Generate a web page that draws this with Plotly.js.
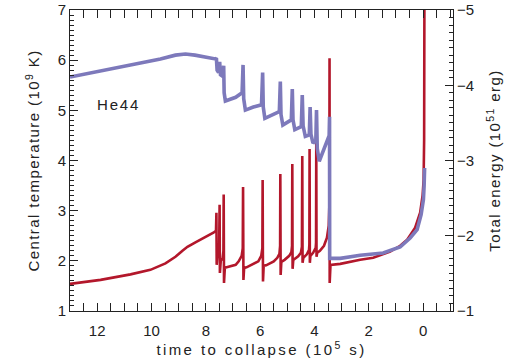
<!DOCTYPE html>
<html>
<head>
<meta charset="utf-8">
<script src="https://cdn.plot.ly/plotly-3.0.1.min.js"></script>
<style>
html,body{margin:0;padding:0;background:#fff;}
#chart{width:522px;height:361px;}
text.xtitle{letter-spacing:2.4px;}
text.ytitle, text.y2title{letter-spacing:1.4px;}
text.annotation-text{letter-spacing:1.8px;}
</style>
</head>
<body>
<div id="chart"></div>
<script>
// Central temperature (10^9 K) vs time to collapse (10^5 s)
const redX = [13.0,11.875,10.772,10.04,9.486,9.118,8.860,8.676,8.382,8.015,7.721,7.625,7.610,7.600,7.570,7.510,7.492,7.482,7.450,7.380,7.352,7.342,7.330,7.300,7.217,6.900,6.790,6.680,6.640,6.629,6.615,6.590,6.500,6.250,6.066,5.960,5.918,5.908,5.895,5.870,5.780,5.500,5.368,5.290,5.265,5.257,5.245,5.220,5.100,4.930,4.850,4.826,4.816,4.805,4.780,4.600,4.500,4.462,4.449,4.438,4.410,4.280,4.200,4.188,4.180,4.170,4.150,4.050,3.955,3.942,3.934,3.924,3.900,3.800,3.650,3.540,3.475,3.452,3.445,3.440,3.410,3.051,2.316,1.838,1.213,0.846,0.588,0.294,0.110,0.018,-0.018,-0.037,-0.048];
const redT = [1.54,1.62,1.73,1.82,1.95,2.08,2.20,2.28,2.37,2.47,2.56,2.60,2.96,1.92,2.15,2.25,3.12,1.76,2.00,2.05,2.20,3.32,1.56,1.86,1.87,1.92,1.99,2.10,2.25,3.47,1.62,1.86,1.87,1.93,1.99,2.10,2.25,3.61,1.59,1.90,1.91,1.99,2.06,2.14,2.30,3.73,1.72,1.98,2.02,2.10,2.17,2.30,3.93,1.84,2.02,2.09,2.16,2.28,4.09,1.96,2.06,2.13,2.22,2.33,4.23,1.96,2.10,2.16,2.26,2.36,4.35,2.08,2.16,2.20,2.30,2.46,2.70,3.10,6.04,1.56,1.92,1.94,2.02,2.06,2.185,2.30,2.42,2.66,2.96,3.31,3.61,4.41,7.3];
// Total energy (10^51 erg)
const blueX = [13.0,11.875,10.772,9.669,9.118,8.75,8.40,7.831,7.647,7.610,7.585,7.530,7.490,7.460,7.380,7.342,7.325,7.280,6.900,6.665,6.629,6.605,6.544,6.25,5.950,5.908,5.885,5.827,5.55,5.294,5.257,5.232,5.165,4.853,4.816,4.790,4.724,4.485,4.449,4.418,4.338,4.191,4.160,4.130,4.055,3.950,3.925,3.897,3.824,3.54,3.46,3.445,3.440,3.051,2.316,1.471,0.846,0.478,0.221,0.074,-0.011,-0.037,-0.055];
const blueE = [-4.11,-4.19,-4.27,-4.35,-4.40,-4.415,-4.40,-4.36,-4.35,-4.36,-4.20,-4.17,-4.31,-4.14,-4.12,-4.26,-3.90,-3.79,-3.84,-3.90,-4.27,-3.82,-3.67,-3.71,-3.74,-4.17,-3.71,-3.56,-3.61,-3.65,-4.05,-3.61,-3.47,-3.54,-3.95,-3.54,-3.41,-3.45,-3.87,-3.46,-3.32,-3.34,-3.71,-3.35,-3.23,-3.27,-3.67,-3.16,-2.99,-3.27,-3.33,-3.58,-1.70,-1.70,-1.74,-1.77,-1.85,-1.97,-2.08,-2.28,-2.48,-2.67,-2.90];
const xTicks = [12,10,8,6,4,2,0];
const yTicks = [1,2,3,4,5,6,7];
const y2Ticks = [-1,-2,-3,-4,-5];

const font = {family: 'Liberation Sans, Arial, sans-serif', size: 15, color: '#222'};
const red = {x: redX, y: redT, type: 'scatter', mode: 'lines', yaxis: 'y',
  line: {color: '#b3172b', width: 2.6}, hoverinfo: 'skip'};
const blue = {x: blueX, y: blueE, type: 'scatter', mode: 'lines', yaxis: 'y2',
  line: {color: '#7d79bb', width: 3.6}, hoverinfo: 'skip'};

const layout = {
  width: 522, height: 361,
  margin: {l: 70, r: 69, t: 10, b: 50},
  paper_bgcolor: '#fff', plot_bgcolor: '#fff',
  showlegend: false, font: font,
  xaxis: {range: [13, -1.1], tickvals: xTicks, ticks: 'inside', ticklen: 8, tickwidth: 1,
    tickcolor: '#222', showline: true, linecolor: '#222', linewidth: 1, mirror: 'allticks',
    showgrid: false, zeroline: false, tickfont: font, ticklabelstandoff: 6,
    minor: {dtick: 0.5, ticks: 'inside', ticklen: 4, tickcolor: '#222', showgrid: false},
    title: {text: 'time to collapse (10<sup>5</sup> s)', font: font, standoff: 4}},
  yaxis: {range: [1, 7], tickvals: yTicks, ticks: 'inside', ticklen: 8, tickwidth: 1,
    tickcolor: '#222', showline: true, linecolor: '#222', linewidth: 1,
    showgrid: false, zeroline: false, tickfont: font,
    minor: {dtick: 0.1, ticks: 'inside', ticklen: 4, tickcolor: '#222', showgrid: false},
    title: {text: 'Central temperature (10<sup>9</sup> K)', font: font, standoff: 14}},
  yaxis2: {overlaying: 'y', side: 'right', range: [-1, -5], tickvals: y2Ticks,
    ticks: 'inside', ticklen: 8, tickwidth: 1, tickcolor: '#222', showline: true,
    linecolor: '#222', linewidth: 1, showgrid: false, zeroline: false, tickfont: font,
    minor: {dtick: 0.1, ticks: 'inside', ticklen: 4, tickcolor: '#222', showgrid: false},
    title: {text: 'Total energy (10<sup>51</sup> erg)', font: font, standoff: 16}},
  annotations: [{x: 11.21, y: 5.11, xref: 'x', yref: 'y', text: 'He44', showarrow: false,
    font: {family: font.family, size: 15, color: '#222'}}]
};
Plotly.newPlot('chart', [red, blue], layout, {staticPlot: true, displayModeBar: false});
</script>
</body>
</html>
